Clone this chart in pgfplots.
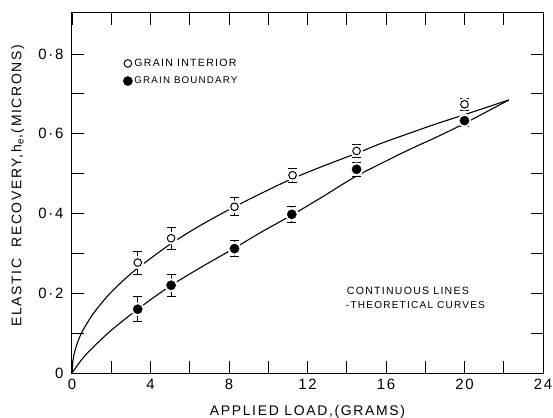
\documentclass[border=0pt]{standalone}
\usepackage{pgfplots}
\pgfplotsset{compat=1.18}
\usepackage{fontspec}
\setmainfont{Liberation Sans}
\newfontfamily\lab[LetterSpace=12]{Liberation Sans}
\newfontfamily\leg[LetterSpace=12]{Liberation Sans}
\newcommand\fitto[2]{\resizebox{#1}{!}{\leg\fontsize{10}{12}\selectfont #2}}

% measured values (open = grain interior, filled = grain boundary)
\pgfplotstableread{
x     y      e
3.35  0.277  0.029
5.05  0.338  0.027
8.28  0.417  0.022
11.24 0.496  0.017
14.5  0.557  0.016
20.0  0.674  0.015
}\interior
\pgfplotstableread{
x     y      e
3.35  0.160  0.032
5.05  0.220  0.027
8.28  0.312  0.021
11.2  0.398  0.020
14.5  0.511  0.018
20.0  0.633  0.014
}\boundary

\begin{document}
\begin{tikzpicture}
\begin{axis}[
    name=ax,
    scale only axis,
    width=471bp, height=360bp,
    xmin=0, xmax=24, ymin=0, ymax=0.903,
    xtick={0,4,...,24},
    xticklabels={0,4,8,12,16,20,24},
    minor xtick={2,6,...,22},
    ytick={0,0.2,0.4,0.6,0.8},
    yticklabels={0,0·2,0·4,0·6,0·8},
    minor ytick={0.1,0.3,0.5,0.7},
    tick align=inside,
    major tick length=12bp, minor tick length=12bp,
    every tick/.style={black, line width=0.9bp},
    axis line style={line width=1bp},
    /pgf/number format/assume math mode=true,
    tick label style={font=\lab\fontsize{15}{17}\selectfont},
    xticklabel style={yshift=-3bp},
    yticklabel style={xshift=-5bp},
    every axis x label/.style={at={(axis description cs:0.5,-0.108)}, anchor=center},
    every axis y label/.style={at={(axis description cs:-0.115,0.52)}, rotate=90, anchor=center},
    label style={font=\lab\fontsize{14}{16}\selectfont},
    xlabel={APPLIED LOAD,(GRAMS)},
    ylabel={ELASTIC\ \ RECOVERY,h\textsubscript{e},(MICRONS)},
    legend style={draw=none, fill=none, at={(axis cs:2.45,0.798)}, anchor=north west,
        row sep=5bp,
        /tikz/every even column/.append style={column sep=8bp}},
    legend cell align=left,
]
% theoretical curves
\addplot[black, line width=1.1bp, smooth, forget plot] coordinates {
(0,0)(0.05,0.032)(0.1,0.046)(0.25,0.072)(0.5,0.102)(1,0.143)(1.5,0.175)(2,0.203)
(2.7,0.236)(3.4,0.265)(5,0.323)(6.5,0.369)(8.2,0.415)(9.7,0.452)(11.2,0.487)
(12.8,0.519)(14.5,0.551)(15.7,0.575)(17,0.598)(18.5,0.624)(20,0.648)(22.26,0.685)};
\addplot[black, line width=1.1bp, smooth, forget plot] coordinates {
(0,0)(0.5,0.034)(1,0.061)(2,0.107)(3.4,0.162)(5,0.218)(6.6,0.266)(8.2,0.311)
(9.7,0.355)(11.2,0.396)(12.8,0.443)(14.5,0.494)(17,0.556)(18.5,0.59)(20,0.626)(22.26,0.685)};
% white halos that break the curves at the points
\addplot[only marks, mark=*, mark size=6bp, white, forget plot] table[x=x,y=y] {\interior};
\addplot[only marks, mark=*, mark size=6.5bp, white, forget plot] table[x=x,y=y] {\boundary};
% points with error bars
\addplot[only marks, mark=o, mark size=3.8bp, black, line width=1bp,
    mark options={fill=white},
    error bars/.cd, y dir=both, y explicit,
    error mark options={rotate=90, mark size=4.5bp, line width=1bp},
    error bar style={line width=1bp}]
    table[x=x, y=y, y error=e] {\interior};
\addlegendentry{\fitto{102bp}{GRAIN INTERIOR}}
\addplot[only marks, mark=*, mark size=4.6bp, black,
    error bars/.cd, y dir=both, y explicit,
    error mark options={rotate=90, mark size=4.5bp, line width=1bp},
    error bar style={line width=1bp}]
    table[x=x, y=y, y error=e] {\boundary};
\addlegendentry{\fitto{103bp}{GRAIN BOUNDARY}}
\node[anchor=base west, inner sep=0pt] at (axis cs:14.0,0.198) {\fitto{122bp}{CONTINUOUS LINES}};
\node[anchor=base west, inner sep=0pt] at (axis cs:13.95,0.163) {\fitto{139bp}{-THEORETICAL CURVES}};
\end{axis}
\pgfresetboundingbox
\path (ax.south west) ++(-72bp,-45bp) rectangle ++(553bp,418bp);
\end{tikzpicture}
\end{document}
